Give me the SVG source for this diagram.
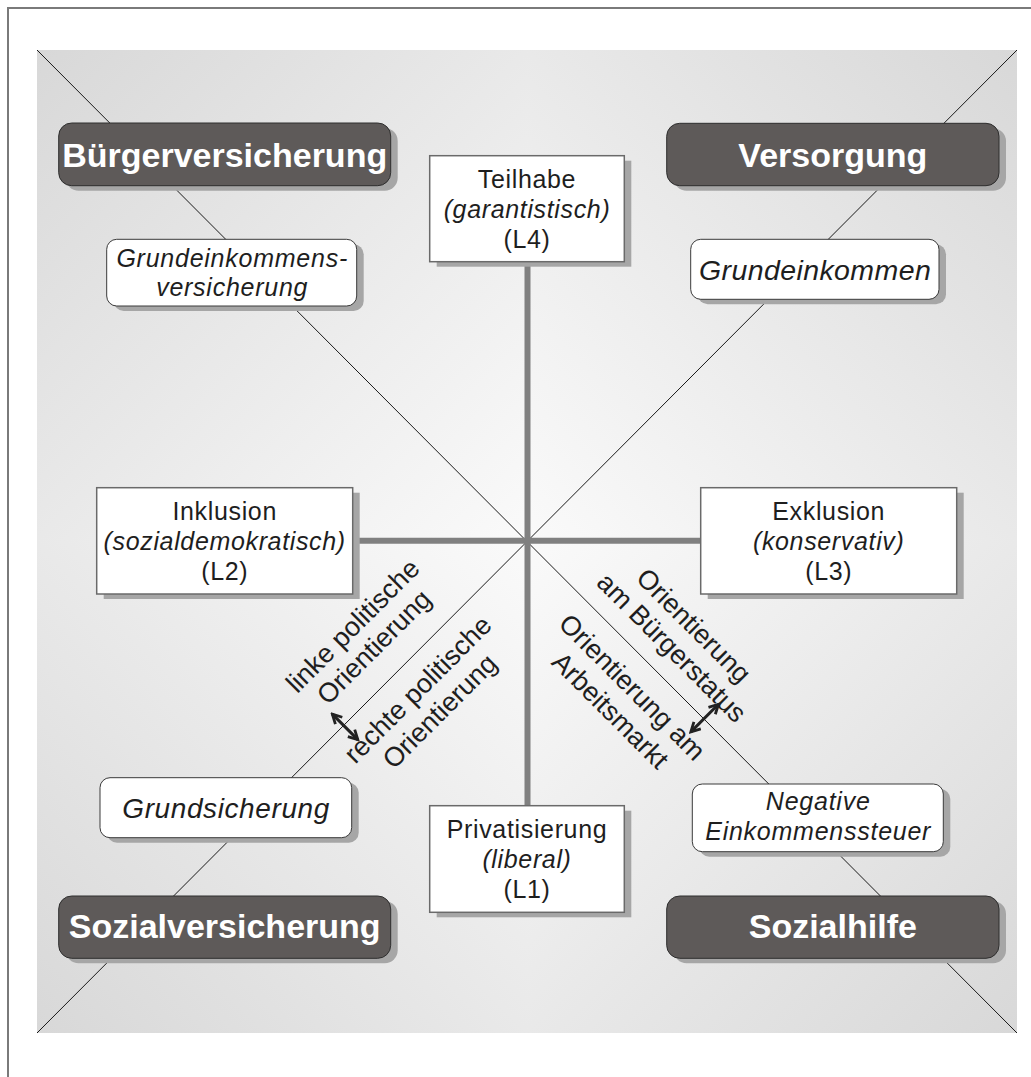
<svg xmlns="http://www.w3.org/2000/svg" width="1031" height="1077" viewBox="0 0 1031 1077">
<style>
.frame{fill:none;stroke:#7a7a7a;stroke-width:2}
.diag{stroke:#1a1a1a;stroke-width:1;fill:none}
.axis{stroke:#808080;stroke-width:6;fill:none}
.shadow{fill:#a6a6a6}
.dark{fill:#5e5a59;stroke:#2e2e2e;stroke-width:1}
.lbox{fill:#ffffff;stroke:#6a6a6a;stroke-width:1.5}
.rbox{fill:#ffffff;stroke:#3a3a3a;stroke-width:1}
.big{font-family:"Liberation Sans",Arial,sans-serif;font-weight:bold;font-size:34px;fill:#ffffff;text-anchor:middle}
.t{font-family:"Liberation Sans",Arial,sans-serif;font-size:25px;fill:#1e1e1e;text-anchor:middle;letter-spacing:0.65px}
.i{font-style:italic}
.it25{font-family:"Liberation Sans",Arial,sans-serif;font-style:italic;font-size:25px;fill:#1e1e1e;text-anchor:middle;letter-spacing:0.75px}
.it28{font-family:"Liberation Sans",Arial,sans-serif;font-style:italic;font-size:28px;fill:#1e1e1e;text-anchor:middle;letter-spacing:0.6px}
.rot{font-family:"Liberation Sans",Arial,sans-serif;font-size:27px;fill:#1e1e1e;text-anchor:middle}
.arr{stroke:#222;stroke-width:3;fill:none}
</style>
<defs>
<linearGradient id="gTL" gradientUnits="userSpaceOnUse" x1="37" y1="50" x2="527" y2="541"><stop offset="0" stop-color="#d8d8d8"/><stop offset="1" stop-color="#fafafa"/></linearGradient>
<linearGradient id="gTR" gradientUnits="userSpaceOnUse" x1="1017" y1="50" x2="527" y2="541"><stop offset="0" stop-color="#d8d8d8"/><stop offset="1" stop-color="#fafafa"/></linearGradient>
<linearGradient id="gBL" gradientUnits="userSpaceOnUse" x1="37" y1="1033" x2="527" y2="541"><stop offset="0" stop-color="#d8d8d8"/><stop offset="1" stop-color="#fafafa"/></linearGradient>
<linearGradient id="gBR" gradientUnits="userSpaceOnUse" x1="1017" y1="1033" x2="527" y2="541"><stop offset="0" stop-color="#d8d8d8"/><stop offset="1" stop-color="#fafafa"/></linearGradient>
<marker id="ah" viewBox="0 0 12 12" refX="10" refY="6" markerWidth="13" markerHeight="13" markerUnits="userSpaceOnUse" orient="auto-start-reverse">
<path d="M1.5,1.5 L10,6 L1.5,10.5" fill="none" stroke="#222" stroke-width="2.6"/>
</marker>
</defs>
<rect width="1031" height="1077" fill="#ffffff"/>
<path class="frame" d="M8,1077 V8 H1031"/>
<g id="background">
<rect x="37" y="50" width="490.5" height="491.5" fill="url(#gTL)"/>
<rect x="527" y="50" width="490" height="491.5" fill="url(#gTR)"/>
<rect x="37" y="541" width="490.5" height="492" fill="url(#gBL)"/>
<rect x="527" y="541" width="490" height="492" fill="url(#gBR)"/>
</g>
<g id="connectors">
<line class="diag" x1="37" y1="50" x2="1017" y2="1033"/>
<line class="diag" x1="1017" y1="50" x2="37" y2="1033"/>
<line class="axis" x1="527.5" y1="261" x2="527.5" y2="806"/>
<line class="axis" x1="352" y1="540.7" x2="701" y2="540.7"/>
</g>
<g id="labels-left" transform="rotate(-45)">
<text class="rot" x="-193" y="701">linke politische</text>
<text class="rot" x="-193" y="731">Orientierung</text>
<text class="rot" x="-192" y="792">rechte politische</text>
<text class="rot" x="-192" y="823">Orientierung</text>
<line class="arr" x1="-270" y1="740" x2="-270" y2="776" marker-start="url(#ah)" marker-end="url(#ah)"/>
</g>
<g id="labels-right" transform="rotate(45)">
<text class="rot" x="933" y="-39">Orientierung</text>
<text class="rot" x="933" y="-8">am Bürgerstatus</text>
<text class="rot" x="933" y="48">Orientierung am</text>
<text class="rot" x="934" y="80">Arbeitsmarkt</text>
<line class="arr" x1="1006" y1="-10" x2="1006" y2="29" marker-start="url(#ah)" marker-end="url(#ah)"/>
</g>
<g id="buergerversicherung">
<rect class="shadow" x="65.7" y="128" width="332" height="62.7" rx="13"/>
<rect class="dark" x="58.7" y="123" width="332" height="62.7" rx="13"/>
<text class="big" x="224.7" y="166.5">Bürgerversicherung</text>
</g>
<g id="versorgung">
<rect class="shadow" x="673.7" y="128.3" width="332.3" height="62.4" rx="13"/>
<rect class="dark" x="666.7" y="123.3" width="332.3" height="62.4" rx="13"/>
<text class="big" x="832.8" y="166.5">Versorgung</text>
</g>
<g id="sozialversicherung">
<rect class="shadow" x="65.7" y="901" width="332" height="62.3" rx="13"/>
<rect class="dark" x="58.7" y="896" width="332" height="62.3" rx="13"/>
<text class="big" x="224.7" y="938">Sozialversicherung</text>
</g>
<g id="sozialhilfe">
<rect class="shadow" x="673.7" y="901" width="332.3" height="62.3" rx="13"/>
<rect class="dark" x="666.7" y="896" width="332.3" height="62.3" rx="13"/>
<text class="big" x="832.8" y="938">Sozialhilfe</text>
</g>
<g id="teilhabe">
<rect class="shadow" x="436.7" y="160.7" width="194.6" height="106"/>
<rect class="lbox" x="429.7" y="155.7" width="194.6" height="106"/>
<text class="t" x="527" y="188">Teilhabe</text>
<text class="t i" x="527" y="218">(garantistisch)</text>
<text class="t" x="527" y="248">(L4)</text>
</g>
<g id="inklusion">
<rect class="shadow" x="103.7" y="492.7" width="256" height="106.3"/>
<rect class="lbox" x="96.7" y="487.7" width="256" height="106.3"/>
<text class="t" x="224.7" y="520">Inklusion</text>
<text class="t i" x="224.7" y="550">(sozialdemokratisch)</text>
<text class="t" x="224.7" y="580">(L2)</text>
</g>
<g id="exklusion">
<rect class="shadow" x="707.7" y="492.7" width="256" height="106.3"/>
<rect class="lbox" x="700.7" y="487.7" width="256" height="106.3"/>
<text class="t" x="828.7" y="520">Exklusion</text>
<text class="t i" x="828.7" y="550">(konservativ)</text>
<text class="t" x="828.7" y="580">(L3)</text>
</g>
<g id="privatisierung">
<rect class="shadow" x="436.7" y="810.7" width="194.6" height="106.6"/>
<rect class="lbox" x="429.7" y="805.7" width="194.6" height="106.6"/>
<text class="t" x="527" y="838">Privatisierung</text>
<text class="t i" x="527" y="868">(liberal)</text>
<text class="t" x="527" y="898">(L1)</text>
</g>
<g id="grundeinkommensversicherung">
<rect class="shadow" x="113.7" y="244.3" width="250" height="66.7" rx="10"/>
<rect class="rbox" x="106.7" y="239.3" width="250" height="66.7" rx="10"/>
<text class="it25" x="232.2" y="267">Grundeinkommens-</text>
<text class="it25" x="232.2" y="295.5">versicherung</text>
</g>
<g id="grundeinkommen">
<rect class="shadow" x="697.7" y="244.3" width="248.3" height="60" rx="10"/>
<rect class="rbox" x="690.7" y="239.3" width="248.3" height="60" rx="10"/>
<text class="it28" x="815.1" y="279.5" style="font-size:28.5px;letter-spacing:0.4px">Grundeinkommen</text>
</g>
<g id="grundsicherung">
<rect class="shadow" x="107" y="782.7" width="251.7" height="60" rx="10"/>
<rect class="rbox" x="100" y="777.7" width="251.7" height="60" rx="10"/>
<text class="it28" x="226.1" y="817.5">Grundsicherung</text>
</g>
<g id="negative-einkommenssteuer">
<rect class="shadow" x="699.3" y="789" width="251" height="67.7" rx="10"/>
<rect class="rbox" x="692.3" y="784" width="251" height="67.7" rx="10"/>
<text class="it25" x="818.2" y="809.5">Negative</text>
<text class="it25" x="818.2" y="840">Einkommenssteuer</text>
</g>
</svg>
